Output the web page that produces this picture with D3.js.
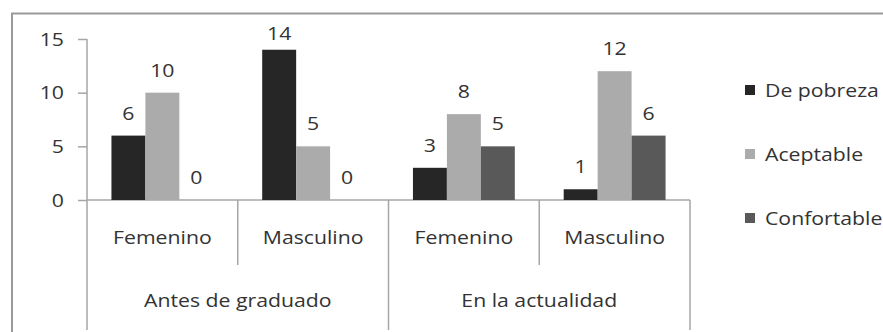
<!DOCTYPE html>
<html>
<head>
<meta charset="utf-8">
<script src="https://cdn.jsdelivr.net/npm/d3@7"></script>
<style>
  html, body { margin: 0; padding: 0; background: #fff; }
  svg { display: block; }
  text { font-family: "Open Sans", sans-serif; fill: #333; }
</style>
</head>
<body>
<svg id="chart" width="883" height="332"></svg>
<script>
// Income level by sex, before graduating and today
const groups = ["Antes de graduado", "En la actualidad"];
const sexes = ["Femenino", "Masculino"];
const seriesNames = ["De pobreza", "Aceptable", "Confortable"];
const seriesColors = ["#262626", "#ababab", "#595959"];
// one array per series, in category order: F/M before, F/M today
const dePobreza = [6, 14, 3, 1];
const aceptable = [10, 5, 8, 12];
const confortable = [0, 0, 5, 6];
const yTicks = [0, 5, 10, 15];

const seriesValues = [dePobreza, aceptable, confortable];
const categories = [];
groups.forEach((g, gi) => sexes.forEach((s, si) => categories.push({ id: gi * 2 + si, group: g, sex: s })));

const svg = d3.select("#chart");
const stretch = 1.18;       // horizontal stretch applied to all labels
const axisColor = "#a6a6a6";

// frame around the chart
svg.append("rect")
  .attr("x", 12).attr("y", 13.5)
  .attr("width", 900).attr("height", 340)
  .attr("fill", "none").attr("stroke", "#9a9a9a").attr("stroke-width", 2);

const plotLeft = 87, plotRight = 690, plotBase = 200, plotTop = 39, bottomLine = 330, midLine = 265;

const y = d3.scaleLinear().domain([0, 15]).range([plotBase, plotTop]);
const x0 = d3.scaleBand().domain(categories.map(c => c.id)).range([plotLeft, plotRight]);
const x1 = d3.scaleBand().domain(d3.range(seriesNames.length)).range([0, x0.bandwidth()]).paddingOuter(0.72);

function label(sel, x, yPos, txt, anchor) {
  return sel.append("text")
    .attr("transform", `translate(${x},${yPos}) scale(${stretch},1)`)
    .attr("text-anchor", anchor || "middle")
    .attr("font-size", 18)
    .text(txt);
}

// y axis
const yAxis = d3.axisLeft(y).tickValues(yTicks).tickSize(9).tickFormat("");
const ya = svg.append("g").attr("transform", `translate(${plotLeft},0)`).call(yAxis);
ya.select(".domain").remove();
ya.selectAll("line").attr("stroke", axisColor).attr("stroke-width", 1.5);
yTicks.forEach(t => label(svg, 64, y(t) + 6.5, String(t), "end"));

const lines = svg.append("g").attr("stroke", axisColor).attr("stroke-width", 1.5);
lines.append("line").attr("x1", plotLeft).attr("x2", plotLeft).attr("y1", plotTop).attr("y2", bottomLine);
lines.append("line").attr("x1", plotLeft).attr("x2", plotRight).attr("y1", plotBase).attr("y2", plotBase);
categories.forEach(c => {
  const xr = x0(c.id) + x0.bandwidth();
  const isGroupEnd = c.id % 2 === 1;
  lines.append("line").attr("x1", xr).attr("x2", xr)
    .attr("y1", plotBase).attr("y2", isGroupEnd ? bottomLine : midLine);
});

// bars with value labels
seriesValues.forEach((vals, si) => {
  const g = svg.append("g").attr("fill", seriesColors[si]);
  categories.forEach(c => {
    const v = vals[c.id];
    g.append("rect")
      .attr("x", x0(c.id) + x1(si))
      .attr("y", y(v))
      .attr("width", x1.bandwidth())
      .attr("height", plotBase - y(v));
    label(svg, x0(c.id) + x1(si) + x1.bandwidth() / 2, Math.max(y(v) - 16, 40), String(v));
  });
});

// category labels
categories.forEach(c => label(svg, x0(c.id) + x0.bandwidth() / 2, 244, c.sex));
groups.forEach((g, gi) => {
  const xc = x0(gi * 2) + x0.bandwidth();
  label(svg, xc, 307, g);
});

// legend
const legendY = [90, 154, 218];
seriesNames.forEach((n, i) => {
  svg.append("rect").attr("x", 745).attr("y", legendY[i] - 5).attr("width", 10).attr("height", 10)
    .attr("fill", seriesColors[i]);
  label(svg, 765, legendY[i] + 6.5, n, "start");
});
</script>
</body>
</html>
